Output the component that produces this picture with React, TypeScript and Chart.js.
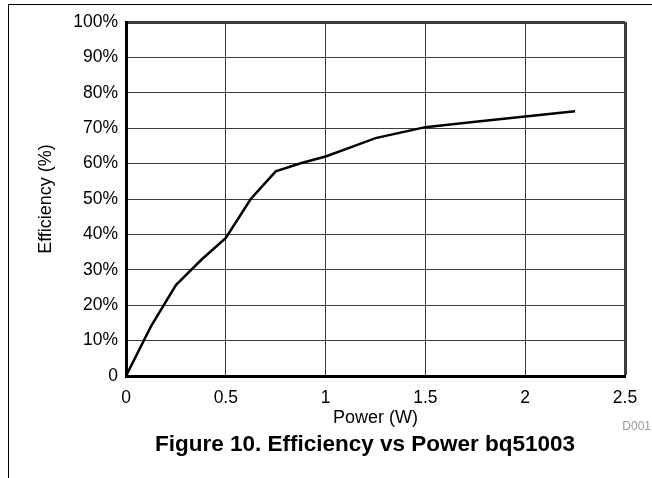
import React, { useEffect, useRef } from "react";
import { Chart, registerables } from "chart.js";

Chart.register(...registerables);

const powerW = [0, 0.125, 0.25, 0.375, 0.5, 0.625, 0.75, 0.875, 1, 1.125, 1.25, 1.5, 1.75, 2, 2.25];
const efficiencyPct = [0, 14, 25.7, 32.7, 39, 50, 57.8, 60.1, 62, 64.6, 67.2, 70.3, 71.8, 73.3, 74.8];
const xTickValues = [0, 0.5, 1, 1.5, 2, 2.5];
const yTickValues = [0, 10, 20, 30, 40, 50, 60, 70, 80, 90, 100];

const FONT = "'Liberation Sans', Arial, sans-serif";

export default function App() {
  const canvasRef = useRef<HTMLCanvasElement | null>(null);

  useEffect(() => {
    if (!canvasRef.current) return;
    const chart = new Chart(canvasRef.current, {
      type: "line",
      data: {
        datasets: [
          {
            data: powerW.map((x, i) => ({ x, y: efficiencyPct[i] })),
            borderColor: "#000",
            borderWidth: 2.5,
            pointRadius: 0,
            tension: 0,
            fill: false,
          },
        ],
      },
      options: {
        animation: false,
        responsive: false,
        layout: { padding: { top: 22, right: 27, left: 0, bottom: 0 } },
        plugins: { legend: { display: false }, tooltip: { enabled: false } },
        scales: {
          x: {
            type: "linear",
            min: 0,
            max: 2.5,
            afterBuildTicks: (s: any) => {
              s.ticks = xTickValues.map((v) => ({ value: v }));
            },
            afterFit: (s: any) => {
              s.height = 102;
            },
            ticks: {
              color: "#000",
              font: { family: FONT, size: 17.5 },
              padding: 12,
              maxRotation: 0,
              callback: (v: any) => String(v),
            },
            grid: {
              drawTicks: false,
              color: "#3c3c3c",
              lineWidth: (ctx: any) => (ctx.tick && ctx.tick.value === 2.5 ? 3 : 1),
            },
            border: { display: true, color: "#000", width: 3 },
            title: {
              display: true,
              text: "Power (W)",
              color: "#000",
              font: { family: FONT, size: 18 },
              padding: { top: 0, bottom: 49 },
            },
          },
          y: {
            type: "linear",
            min: 0,
            max: 100,
            afterBuildTicks: (s: any) => {
              s.ticks = yTickValues.map((v) => ({ value: v }));
            },
            afterFit: (s: any) => {
              s.width = 126;
            },
            ticks: {
              color: "#000",
              font: { family: FONT, size: 17.5 },
              padding: 8,
              callback: (v: any) => (v === 0 ? "0" : v + "%"),
            },
            grid: {
              drawTicks: false,
              color: "#3c3c3c",
              lineWidth: (ctx: any) => (ctx.tick && ctx.tick.value === 100 ? 3 : 1),
            },
            border: { display: true, color: "#000", width: 3 },
            title: {
              display: true,
              text: "Efficiency (%)",
              color: "#000",
              font: { family: FONT, size: 18 },
              padding: { top: 35, bottom: 0 },
            },
          },
        },
      },
    });
    return () => chart.destroy();
  }, []);

  return (
    <div style={{ position: "absolute", left: 0, top: 0, width: 652, height: 478, background: "#fff", overflow: "hidden" }}>
      <div
        style={{
          position: "absolute",
          left: 8,
          top: 4,
          width: 700,
          height: 500,
          borderTop: "1.5px solid #000",
          borderLeft: "1.5px solid #000",
        }}
      />
      <canvas ref={canvasRef} width={652} height={478} style={{ position: "absolute", left: 0, top: 0 }} />
      <div
        style={{
          position: "absolute",
          right: 1,
          top: 419,
          fontFamily: FONT,
          fontSize: 12,
          lineHeight: "14px",
          color: "#9a9a9a",
        }}
      >
        D001
      </div>
      <div
        style={{
          position: "absolute",
          left: 365,
          top: 432,
          transform: "translateX(-50%)",
          whiteSpace: "nowrap",
          fontFamily: FONT,
          fontSize: 22.5,
          fontWeight: "bold",
          lineHeight: "23px",
          color: "#000",
        }}
      >
        Figure 10. Efficiency vs Power bq51003
      </div>
    </div>
  );
}
